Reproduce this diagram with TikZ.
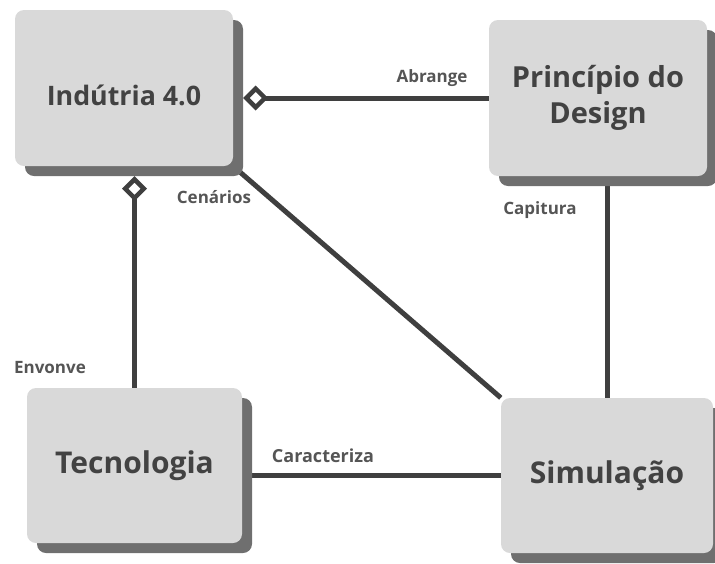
\documentclass[tikz,border=0pt]{standalone}
\usepackage{fontspec}
\setmainfont{Open Sans}
\usetikzlibrary{arrows.meta,shadows,backgrounds}
\definecolor{boxfill}{HTML}{D9D9D9}
\definecolor{boxshade}{HTML}{6F6F6F}
\definecolor{linecol}{HTML}{3F3F3F}
\definecolor{textcol}{HTML}{424242}
\definecolor{labelcol}{HTML}{555555}
\begin{document}
\begin{tikzpicture}[x=1pt,y=-1pt,
  conceptbox/.style={rounded corners=9pt, fill=boxfill, draw=none, inner sep=0pt,
    text=textcol, font=\fontsize{28}{36}\selectfont\bfseries, align=center,
    drop shadow={shadow xshift=10pt, shadow yshift=-10pt, fill=boxshade, opacity=1}},
  bigtext/.style={font=\fontsize{30}{36}\selectfont\bfseries},
  conn/.style={line width=5pt, draw=linecol},
  agg/.style={{Diamond[open, length=25pt, width=25pt, line width=4.5pt]}-, shorten <=10pt},
  lbl/.style={text=labelcol, font=\fontsize{17}{18}\selectfont\bfseries, inner sep=0pt}
]
\path[use as bounding box] (0,0) rectangle (715,563);

\node[conceptbox, minimum width=218pt, minimum height=156pt] (ind) at (124,88) {};
\node[text=textcol, font=\fontsize{26.8}{36}\selectfont\bfseries, inner sep=0pt] (indt) at (124,95) {Indútria 4.0};
\node[conceptbox, font=\fontsize{29}{36}\selectfont\bfseries, minimum width=218pt, minimum height=156pt] (pri) at (598,98) {Princípio do\\Design};
\node[conceptbox, bigtext, minimum width=215pt, minimum height=155pt] (tec) at (134.5,465.5) {Tecnologia};
\node[conceptbox, bigtext, minimum width=212pt, minimum height=155pt] (sim) at (607,475.5) {Simulação};

\begin{scope}[on background layer]
  \draw[conn, agg] (ind.east |- pri.west) -- (pri.west);
  \draw[conn, agg] (tec.north |- ind.south) -- (tec.north);
  \draw[conn] (ind.south east) -- (sim.north west);
  \draw[conn] (pri.south -| sim.north) -- (sim.north);
  \draw[conn] (tec.east |- sim.west) -- (sim.west);
\end{scope}

\node[lbl] (labr) at (432,78) {Abrange};
\node[lbl] (lcen) at (214,197) {Cenários};
\node[lbl] (lcap) at (540,210) {Capitura};
\node[lbl] (lenv) at (50,368) {Envonve};
\node[lbl, font=\fontsize{18}{18}\selectfont\bfseries] (lcar) at (323,456) {Caracteriza};
\end{tikzpicture}
\end{document}
